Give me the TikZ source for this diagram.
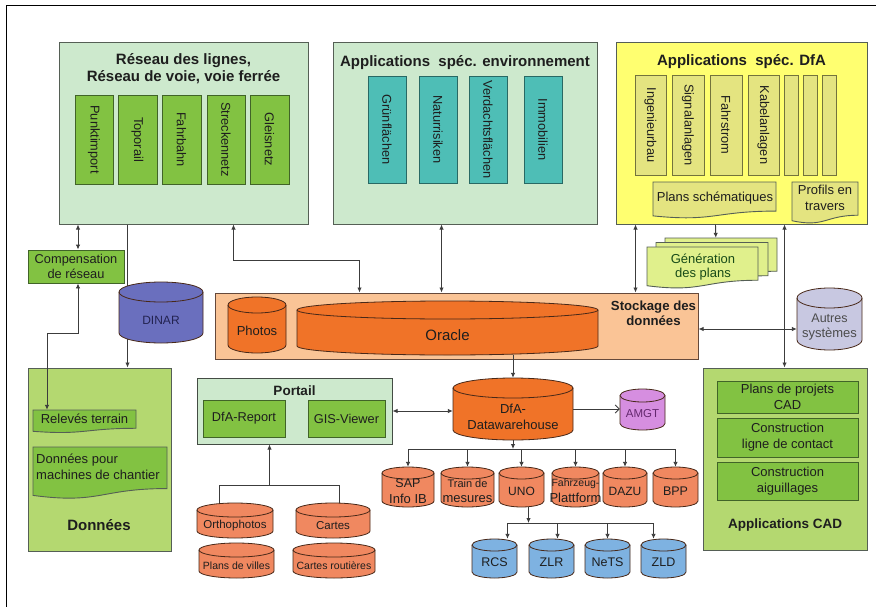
\documentclass[tikz,border=0pt]{standalone}
\usepackage{fontspec}
\setmainfont{Liberation Sans}
\usetikzlibrary{arrows.meta,fit}
\definecolor{mint}{RGB}{205,233,205}
\definecolor{grn}{RGB}{130,194,66}
\definecolor{grnd}{RGB}{65,100,40}
\definecolor{lime}{RGB}{180,216,112}
\definecolor{tealc}{RGB}{78,190,182}
\definecolor{teald}{RGB}{40,105,100}
\definecolor{ylw}{RGB}{255,255,112}
\definecolor{khaki}{RGB}{228,228,128}
\definecolor{khakid}{RGB}{115,115,60}
\definecolor{genc}{RGB}{224,240,140}
\definecolor{peach}{RGB}{250,196,150}
\definecolor{orng}{RGB}{240,115,40}
\definecolor{salm}{RGB}{240,136,96}
\definecolor{dinarc}{RGB}{106,111,190}
\definecolor{autc}{RGB}{200,200,225}
\definecolor{amgtc}{RGB}{214,142,224}
\definecolor{bluec}{RGB}{126,178,225}
\definecolor{lne}{RGB}{60,60,60}
\definecolor{bd}{RGB}{85,95,85}
\definecolor{txt}{RGB}{30,30,30}
\definecolor{cylbd}{RGB}{90,50,30}

% cylinder: name, x1, y1, x2, y2, ry, fill, text
\newcommand\mycyl[8]{%
  \pgfmathsetmacro\mycylrx{(#4-#2)/2}%
  \pgfmathsetmacro\mycylcx{(#4+#2)/2}%
  \pgfmathsetmacro\mycylty{(#3+2*#6+#5)/2-2}%
  \filldraw[cylline, fill=#7] (#2,#3+#6) -- (#2,#5-#6)
     arc[start angle=180, end angle=360, x radius=\mycylrx pt, y radius=#6pt]
     -- (#4,#3+#6)
     arc[start angle=0, end angle=180, x radius=\mycylrx pt, y radius=#6pt] -- cycle;
  \draw[cylline] (#2,#3+#6) arc[start angle=180, end angle=360, x radius=\mycylrx pt, y radius=#6pt];
  \node[fit={(#2,#3) (#4,#5)}, inner sep=0pt] (#1) {};
  \node[align=center] (#1-t) at (\mycylcx,\mycylty) {#8};
}
% document shape: name, x1, y1, x2, y2 (lowest), fill
\newcommand\mydoc[6]{%
  \pgfmathsetmacro\mydocH{(#5-#3)/0.965}%
  \pgfmathsetmacro\mydocM{(#2+#4)/2}%
  \filldraw[docline, fill=#6] (#2,#3) -- (#4,#3) -- (#4,{#3+0.802*\mydocH})
    .. controls (\mydocM,{#3+0.802*\mydocH}) and (\mydocM,{#3+1.1075*\mydocH}) .. (#2,{#3+0.934*\mydocH}) -- cycle;
  \node[fit={(#2,#3) (#4,#5)}, inner sep=0pt] (#1) {};
}

\begin{document}
\begin{tikzpicture}[x=1pt,y=-1pt,
  every node/.style={text=txt, font=\fontsize{13}{15.5}\selectfont, inner sep=0pt},
  mbox/.style={draw=bd, line width=1pt, inner sep=0pt},
  gbar/.style={draw=grnd, fill=grn, line width=0.9pt, inner sep=0pt},
  tbar/.style={draw=teald, fill=tealc, line width=0.9pt, inner sep=0pt},
  ybar/.style={draw=khakid, fill=khaki, line width=0.9pt, inner sep=0pt},
  vt/.style={rotate=-90, font=\fontsize{12.8}{15}\selectfont},
  ttl/.style={align=center, font=\fontsize{15}{17}\selectfont\bfseries},
  cylline/.style={draw=cylbd!80!black, line width=0.8pt},
  docline/.style={draw=bd, line width=0.9pt},
  conn/.style={draw=lne, line width=0.9pt},
  arr/.style={conn, -{Latex[length=5pt,width=4.5pt]}},
  dbl/.style={conn, {Latex[length=5pt,width=4.5pt]}-{Latex[length=5pt,width=4.5pt]}},
  oarr/.style={conn, -{Straight Barb[length=4pt,width=8pt]}},
  ctext/.style={align=center}
]
\useasboundingbox (0,0) rectangle (880,607);
\fill[white] (0,0) rectangle (880,607);
\draw[line width=1pt, black] (6,607) -- (6,6) -- (876,6);

% ---------- Réseau des lignes ----------
\node[mbox, fill=mint, fit={(59,43) (308,224)}] (reseau) {};
\node[ttl] at (183.5,68.5) {Réseau des lignes,\\Réseau de voie, voie ferrée};
\node[gbar, fit={(75,95) (113,184)}] (punkt) {}; \node[vt] at (punkt) {Punktimport};
\node[gbar, fit={(118,95) (157,184)}] (topo) {}; \node[vt] at (topo) {Toporail};
\node[gbar, fit={(162,95) (201,184)}] (fahrb) {}; \node[vt] at (fahrb) {Fahrbahn};
\node[gbar, fit={(207,95) (245,184)}] (strecke) {}; \node[vt] at (strecke) {Streckennetz};
\node[gbar, fit={(250,95) (289,184)}] (gleis) {}; \node[vt] at (gleis) {Gleisnetz};

% ---------- Applications spéc. environnement ----------
\node[mbox, fill=mint, fit={(333,43) (597,224)}] (env) {};
\node[ttl] at (465,63) {Applications\ \ spéc. environnement};
\node[tbar, fit={(368,76) (406,183)}] (gruen) {}; \node[vt] at (gruen) {Grünflächen};
\node[tbar, fit={(419,76) (457,183)}] (natur) {}; \node[vt] at (natur) {Naturrisiken};
\node[tbar, fit={(469,76) (507,183)}] (verd) {}; \node[vt] at (verd) {Verdachtsflächen};
\node[tbar, fit={(524,76) (562,183)}] (immo) {}; \node[vt] at (immo) {Immobilien};

% ---------- Applications spéc. DfA ----------
\node[mbox, fill=ylw, fit={(616,43) (867,224)}] (dfa) {};
\node[ttl] at (741.5,62) {Applications\ \ spéc. DfA};
\node[ybar, fit={(635,75) (666,175)}] (ingb) {}; \node[vt] at (ingb) {Ingenieurbau};
\node[ybar, fit={(672,75) (704,175)}] (sig) {}; \node[vt] at (sig) {Signalanlagen};
\node[ybar, fit={(710,75) (742,175)}] (fstr) {}; \node[vt] at (fstr) {Fahrstrom};
\node[ybar, fit={(748,75) (779,175)}] (kab) {}; \node[vt] at (kab) {Kabelanlagen};
\node[ybar, fit={(784,75) (798,175)}] (e1) {};
\node[ybar, fit={(803,75) (817,175)}] (e2) {};
\node[ybar, fit={(822,75) (836,175)}] (e3) {};
\mydoc{plans}{653}{182}{776}{217}{khaki}
\node at (715,198) {Plans schématiques};
\mydoc{profils}{792}{182}{858}{222}{khaki}
\node[ctext, font=\fontsize{13}{16}\selectfont] at (825,198) {Profils en\\travers};

% ---------- Génération des plans ----------
\mydoc{gen3}{665}{238}{777}{278}{genc}
\mydoc{gen2}{656}{242.5}{768}{282.5}{genc}
\mydoc{gen}{647}{247}{758}{287}{genc}
\node[ctext, font=\fontsize{13}{14.5}\selectfont, text=txt!80!green] at (703,267) {Génération\\des plans};

% ---------- Compensation ----------
\node[gbar, fit={(28,250) (124,283)}] (comp) {};
\node[ctext, font=\fontsize{12.8}{15}\selectfont] at (76,266.5) {Compensation\\de réseau};

% ---------- Stockage ----------
\node[mbox, draw=cylbd!70!gray, fill=peach, fit={(215,293) (698,359)}] (stock) {};
\node[ttl, font=\fontsize{13.2}{15.5}\selectfont\bfseries] at (653.5,313.5) {Stockage des\\données};
\mycyl{photos}{228}{297}{286}{353}{8}{orng}{Photos}
\mycyl{oracle}{297}{301}{598}{355}{9}{orng}{\fontsize{15}{18}\selectfont Oracle}

% ---------- Autres systèmes ----------
\mycyl{autres}{797}{288}{862}{350}{10}{autc}{\fontsize{12.5}{14.5}\selectfont\color{black!70}Autres\\\color{black!70}systèmes}

% ---------- Données ----------
\node[mbox, fill=lime, fit={(28,368) (171,551)}] (donnees) {};
\mydoc{relev}{33}{410}{136}{432}{grn}
\node at (84.5,419) {Relevés terrain};
\mydoc{machines}{33}{447}{167}{497}{grn}
\node[anchor=west, align=left, font=\fontsize{13}{16}\selectfont] at (36,467) {Données pour\\machines de chantier};
\node[font=\fontsize{15}{18}\selectfont\bfseries] at (99,525) {Données};

% ---------- Applications CAD ----------
\node[mbox, fill=lime, fit={(703,368) (867,550)}] (cad) {};
\node[gbar, fit={(717,381) (858,413)}] (cad1) {};
\node[ctext, font=\fontsize{13}{16}\selectfont] at (cad1) {Plans de projets\\CAD};
\node[gbar, fit={(717,418) (858,457)}] (cad2) {};
\node[ctext, font=\fontsize{13}{16}\selectfont] at (cad2) {Construction\\ligne de contact};
\node[gbar, fit={(717,462) (858,500)}] (cad3) {};
\node[ctext, font=\fontsize{13}{16}\selectfont] at (cad3) {Construction\\aiguillages};
\node[ttl, font=\fontsize{13.5}{16}\selectfont\bfseries] at (785,525) {Applications CAD};

% ---------- Portail ----------
\node[mbox, draw=bd!80!black, fill=mint, fit={(197,378) (392,444)}] (portail) {};
\node[ttl, font=\fontsize{13.5}{16}\selectfont\bfseries] at (294.5,391) {Portail};
\node[gbar, fit={(203,400) (285,437)}] (report) {}; \node[font=\fontsize{12.8}{15}\selectfont] at (report) {DfA-Report};
\node[gbar, fit={(308,400) (385,437)}] (gis) {}; \node[font=\fontsize{12.8}{15}\selectfont] at (gis) {GIS-Viewer};

% ---------- Data warehouse and dependants ----------
\mycyl{dw}{453}{378}{573}{440}{10}{orng}{DfA-\\Datawarehouse}
\mycyl{amgt}{620}{389}{665}{430}{6.5}{amgtc}{\fontsize{11.5}{14}\selectfont\color[RGB]{100,40,110}AMGT}

\mycyl{sap}{382}{467}{434}{507}{6}{salm}{\fontsize{12.5}{12.5}\selectfont SAP\\Info IB}
\mycyl{train}{441}{467}{494}{507}{6}{salm}{\fontsize{11}{12.5}\selectfont Train de\\mesures}
\mycyl{uno}{499}{467}{544}{507}{6}{salm}{\fontsize{12}{14}\selectfont UNO}
\mycyl{fahr}{552}{467}{599}{507}{6}{salm}{\fontsize{10.5}{12.5}\selectfont Fahrzeug-\\Plattform}
\mycyl{dazu}{603}{467}{647}{507}{6}{salm}{\fontsize{12}{14}\selectfont DAZU}
\mycyl{bpp}{653}{467}{698}{507}{6}{salm}{\fontsize{12.5}{14}\selectfont BPP}

\mycyl{rcs}{472}{539}{517}{578}{6}{bluec}{\fontsize{12.5}{14}\selectfont RCS}
\mycyl{zlr}{529}{539}{574}{578}{6}{bluec}{\fontsize{12.5}{14}\selectfont ZLR}
\mycyl{nets}{585}{539}{630}{578}{6}{bluec}{\fontsize{12.5}{14}\selectfont NeTS}
\mycyl{zld}{641}{539}{686}{578}{6}{bluec}{\fontsize{12.5}{14}\selectfont ZLD}

\mycyl{ortho}{197}{503}{273}{538}{7}{salm}{\fontsize{11.5}{14}\selectfont Orthophotos}
\mycyl{cartes}{296}{503}{370}{538}{7}{salm}{\fontsize{11.5}{14}\selectfont Cartes}
\mycyl{villes}{199}{543}{274}{578}{7}{salm}{\fontsize{10.5}{14}\selectfont Plans de villes}
\mycyl{routes}{293}{543}{375}{578}{7}{salm}{\fontsize{10.5}{14}\selectfont Cartes routières}

% ---------- Connectors ----------
\draw[arr] ([xshift=69pt]reseau.south west) -- ([xshift=100pt]donnees.north west);
\mycyl{dinar}{119}{282}{203}{343}{10}{dinarc}{\fontsize{12}{14}\selectfont\color[RGB]{35,35,80}DINAR}

\draw[dbl] ([xshift=2pt]comp.north) -- ([xshift=2pt]comp.north |- reseau.south);
\coordinate (bendR) at (47,333);
\draw[dbl] ([xshift=2pt]comp.south) |- (bendR) -- (bendR |- relev.north);

\draw[dbl] ([xshift=175pt]reseau.south west) -- ++(0,36) -| ([xshift=145pt]stock.north west);
\draw[dbl] ([xshift=109pt]env.south west) -- ([xshift=227pt]stock.north west);
\draw[dbl] ([xshift=20pt]dfa.south west) -- ([xshift=421pt]stock.north west);
\draw[arr] ([xshift=100pt]dfa.south west) -- ([xshift=51pt]gen3.north west);
\draw[dbl] ([xshift=169pt]dfa.south west) -- ([xshift=82pt]cad.north west);
\draw[dbl] ([yshift=-3pt]stock.east) -- ([yshift=-3pt]stock.east -| autres.west);

\draw[arr] (dw.north |- oracle.south) -- (dw.north);
\draw[dbl] (portail.east) -- (portail.east -| dw.west);
\draw[oarr] (dw.east) -- (dw.east -| amgt.west);

\coordinate (busA) at (510,449);
\draw[arr] (dw.south) -- (dw.south |- busA);
\draw[conn] (sap.north |- busA) -- (bpp.north |- busA);
\foreach \n in {sap,train,uno,fahr,dazu,bpp} \draw[arr] (\n.north |- busA) -- (\n.north);

\coordinate (busB) at (520,523);
\draw[arr] ([xshift=7pt]uno.south) -- ([xshift=7pt]uno.south |- busB);
\draw[conn] ([xshift=13pt]rcs.north |- busB) -- ([xshift=-10pt]zld.north |- busB);
\draw[arr] ([xshift=13pt]rcs.north |- busB) -- ([xshift=13pt]rcs.north);
\draw[arr] ([xshift=6pt]zlr.north |- busB) -- ([xshift=6pt]zlr.north);
\draw[arr] (nets.north |- busB) -- (nets.north);
\draw[arr] ([xshift=-10pt]zld.north |- busB) -- ([xshift=-10pt]zld.north);

\coordinate (busC) at (270,485);
\draw[conn] ([xshift=-16pt]ortho.north) -- ([xshift=-16pt]ortho.north |- busC) -- ([xshift=6pt]cartes.north |- busC) -- ([xshift=6pt]cartes.north);
\draw[arr] ([xshift=-25pt]portail.south |- busC) -- ([xshift=-25pt]portail.south);
\end{tikzpicture}
\end{document}
